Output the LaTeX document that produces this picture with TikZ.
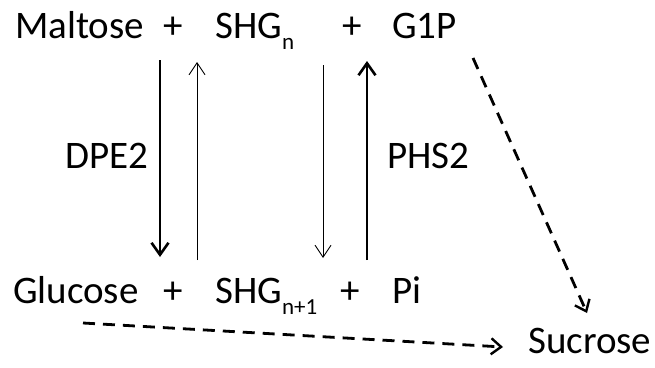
\documentclass[tikz,border=0pt]{standalone}
\usepackage{fontspec}
\setmainfont{Carlito}
\usetikzlibrary{positioning,arrows.meta}
\tikzset{
  cpd/.style   ={anchor=base west, inner sep=0pt, font=\fontsize{39}{46}\selectfont},
  plus/.style  ={cpd, anchor=base},
  enz/.style   ={cpd},
  major/.style ={-{Straight Barb[length=12pt,width=17pt,line width=2.6pt]}, line width=2.6pt},
  minor/.style ={-{Straight Barb[length=12pt,width=16pt]}, line width=0.9pt},
  flux/.style  ={-{Straight Barb[length=10pt,width=16pt,line width=2.4pt]}, line width=2.8pt,
                 dash pattern=on 12pt off 8pt},
}
\newcommand{\subtx}[1]{\raisebox{-0.3em}{\fontsize{23}{23}\selectfont #1}}

\begin{document}
\begin{tikzpicture}[x=1pt,y=-1pt]
  \useasboundingbox (0,0) rectangle (655,367);
  % top row
  \node[cpd]  (maltose) at (15,38)  {Maltose};
  \node[plus] (p1)      at (173,38) {+};
  \node[cpd]  (shgn)    at (215,38) {SHG\subtx{n}};
  \node[plus] (p2)      at (352,38) {+};
  \node[cpd]  (gip)     at (392,38) {G1P};
  % bottom row
  \node[cpd]  (glucose) at (13,303)  {Glucose};
  \node[plus] (p3)      at (173,303) {+};
  \node[cpd]  (shgm)    at (215,303) {SHG\subtx{n+1}};
  \node[plus] (p4)      at (350,303) {+};
  \node[cpd]  (pi)      at (392,303) {Pi};
  \node[cpd]  (sucrose) at (528,353) {Sucrose};
  % enzymes
  \node[enz]  (dpe)     at (65,168)  {DPE2};
  \node[enz]  (phs)     at (387,168) {PHS2};
  % arrow ends
  \foreach \n/\x/\ya/\yb in {a/160/60/257, b/197/260/62, c/323/65/258, d/367/260/61}{
    \coordinate (\n0) at (\x,\ya);
    \coordinate (\n1) at (\x,\yb);}
  \coordinate (g0) at (473,58);
  \coordinate (g1) at (587,313);
  \coordinate (s0) at (83,323);
  \coordinate (s1) at (503,347);
  \draw[major] (a0) -- (a1);
  \draw[minor] (b0) -- (b1);
  \draw[minor] (c0) -- (c1);
  \draw[major] (d0) -- (d1);
  \draw[flux]  (g0) -- (g1);
  \draw[flux]  (s0) -- (s1);
\end{tikzpicture}
\end{document}
